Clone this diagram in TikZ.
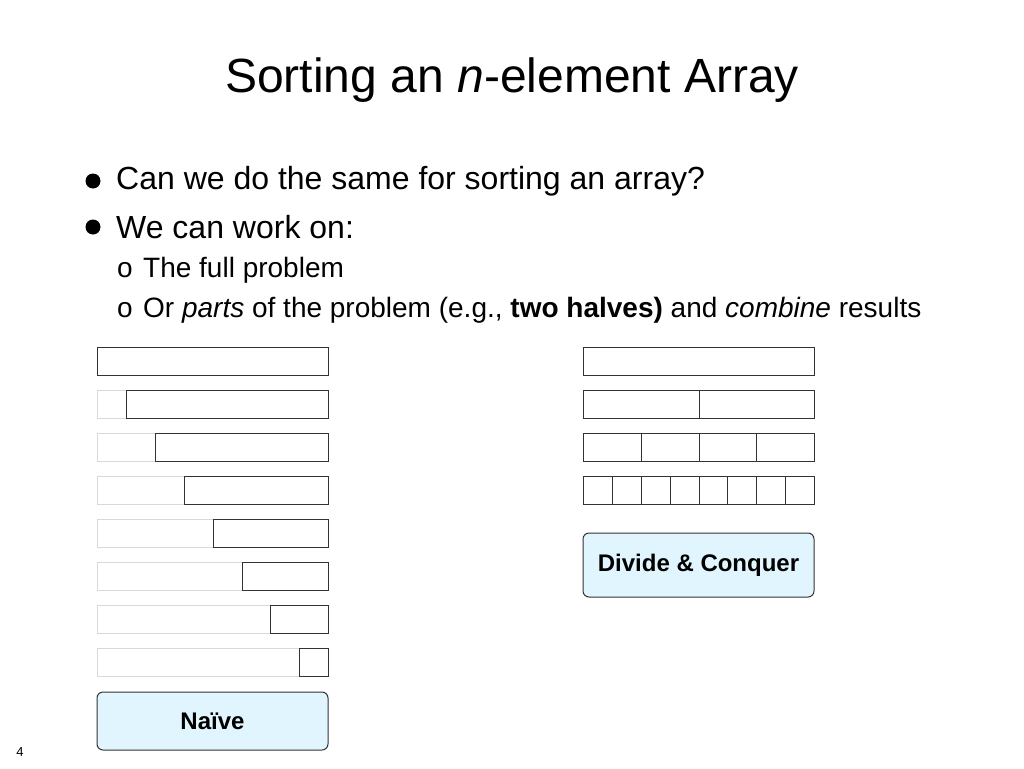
\documentclass[tikz,border=0pt]{standalone}
\usepackage{fontspec}
\setmainfont{Liberation Sans}
\usetikzlibrary{positioning}

\begin{document}
\begin{tikzpicture}[x=1pt,y=-1pt]
\tikzstyle{cell}=[draw=black!80,line width=1pt,minimum height=28pt,inner sep=0pt,anchor=north west]
\tikzstyle{ghost}=[draw=black!15,line width=1pt,minimum height=28pt,inner sep=0pt,anchor=north west]
\tikzstyle{method}=[draw=black!80,line width=1pt,rounded corners=6pt,fill=cyan!12,minimum width=231pt,inner sep=0pt,font=\bfseries\fontsize{24}{28}\selectfont]
\tikzstyle{dot}=[circle,fill=black,inner sep=0pt,minimum size=15pt]
\tikzstyle{bullet}=[anchor=west,inner sep=0pt,font=\fontsize{32}{38}\selectfont]
\tikzstyle{subbullet}=[anchor=west,inner sep=0pt,font=\fontsize{28}{33}\selectfont]

\useasboundingbox (0,0) rectangle (1024,768);

% title and bullets
\node (title) at (512,80) {\fontsize{48}{56}\selectfont Sorting an \textit{n}-element Array};
\node (dot1) [dot] at (93,181) {};
\node (b1) [bullet] at (116,181) {Can we do the same for sorting an array?};
\node (dot2) [dot] at (93,227) {};
\node (b2) [bullet] at (116,227) {We can work on:};
\node (o1) [subbullet] at (117,270) {o};
\node (s1) [subbullet] at (143,270) {The full problem};
\node (o2) [subbullet] at (117,310) {o};
\node (s2) [subbullet] at (143,310) {Or \textit{parts} of the problem (e.g., \textbf{two halves)} and \textit{combine} results};

% naive: shrinking array
\foreach \i in {0,...,7} {
  \pgfmathsetmacro\cut{28.9*\i}
  \ifnum\i>0
    \node (g\i) [ghost,minimum width=\cut pt] at (97,347+43*\i) {};
  \fi
  \node (n\i) [cell,minimum width=231pt-\cut pt] at (97+\cut,347+43*\i) {};
}
\node (naive) [method,minimum height=58pt] at (212.5,721) {Naïve};

% divide and conquer: halving
\foreach \r/\k in {0/1,1/2,2/4,3/8} {
  \pgfmathsetmacro\w{231/\k}
  \foreach \j in {1,...,\k} {
    \node (d\r-\j) [cell,minimum width=\w pt] at (583+\w*\j-\w,347+43*\r) {};
  }
}
\node (dc) [method,minimum height=64pt] at (698.5,565) {Divide \& Conquer};

\node (page) at (20,752) {\fontsize{13}{15}\selectfont 4};
\end{tikzpicture}
\end{document}
